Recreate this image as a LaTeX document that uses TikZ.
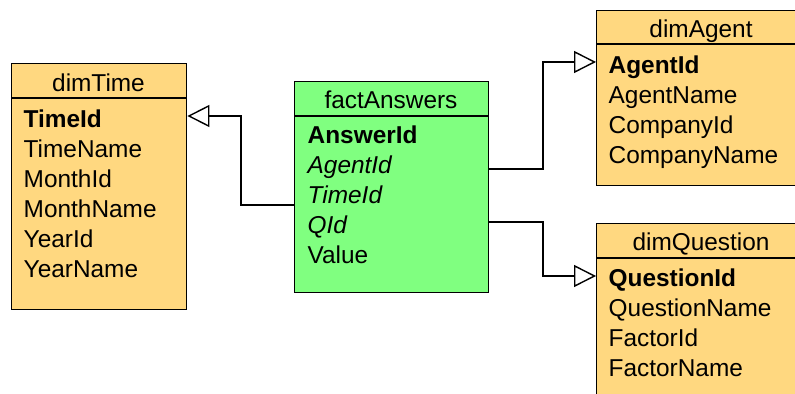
\documentclass[tikz,border=0pt]{standalone}
\usepackage{fontspec}
\setmainfont{Liberation Sans}
\usetikzlibrary{arrows.meta}
\definecolor{dimfill}{RGB}{255,216,128}
\definecolor{factfill}{RGB}{128,255,128}

\begin{document}
\begin{tikzpicture}[x=0.5pt, y=-0.5pt, line width=0.7pt,
  every node/.style={inner sep=0, font=\fontsize{12.2}{15}\selectfont},
  dim/.style={draw, fill=dimfill, anchor=north west},
  fact/.style={draw, fill=factfill, anchor=north west},
  row/.style={anchor=base west},
  title/.style={anchor=base},
  link/.style={-{Triangle[open, length=11pt, width=11pt, fill=white]}}]
  \useasboundingbox (0,0) rectangle (795,394);
  \clip (0,0) rectangle (795,394);
  % tables
  \node[dim, minimum width=87.5pt, minimum height=123pt] (dimTime) at (11,63) {};
  \node[fact, minimum width=97pt, minimum height=105.5pt] (factAnswers) at (294,81) {};
  \node[dim, minimum width=105pt, minimum height=87.5pt] (dimAgent) at (596,10) {};
  \node[dim, minimum width=105pt, minimum height=90pt] (dimQuestion) at (596,223) {};
  \draw (dimTime.west |- 0,98) -- (dimTime.east |- 0,98);
  \draw (factAnswers.west |- 0,116) -- (factAnswers.east |- 0,116);
  \draw (dimAgent.west |- 0,44) -- (dimAgent.east |- 0,44);
  \draw (dimQuestion.west |- 0,258) -- (dimQuestion.east |- 0,258);
  % dimTime
  \node[title] (tTitle) at (98.5,92) {dimTime};
  \node[row] (tTimeId) at (23,128) {\textbf{TimeId}};
  \node[row] (tTimeName) at (23,158) {TimeName};
  \node[row] (tMonthId) at (23,188) {MonthId};
  \node[row] (tMonthName) at (23,218) {MonthName};
  \node[row] (tYearId) at (23,248) {YearId};
  \node[row] (tYearName) at (23,278) {YearName};
  % factAnswers
  \node[title] (fTitle) at (391,109) {factAnswers};
  \node[row] (fAnswerId) at (307,144) {\textbf{AnswerId}};
  \node[row] (fAgentId) at (307,174) {\textit{AgentId}};
  \node[row] (fTimeId) at (307,204) {\textit{TimeId}};
  \node[row] (fQId) at (307,234) {\textit{QId}};
  \node[row] (fValue) at (307,264) {Value};
  % dimAgent
  \node[title] (aTitle) at (701,38) {dimAgent};
  \node[row] (aAgentId) at (608,74) {\textbf{AgentId}};
  \node[row] (aAgentName) at (608,104) {AgentName};
  \node[row] (aCompanyId) at (608,134) {CompanyId};
  \node[row] (aCompanyName) at (608,164) {CompanyName};
  % dimQuestion
  \node[title] (qTitle) at (701,251) {dimQuestion};
  \node[row] (qQuestionId) at (608,286) {\textbf{QuestionId}};
  \node[row] (qQuestionName) at (608,316) {QuestionName};
  \node[row] (qFactorId) at (608,346) {FactorId};
  \node[row] (qFactorName) at (608,376) {FactorName};
  % links
  \draw[link] (factAnswers.west |- 0,205) -- (241,205) |- (dimTime.east |- 0,116);
  \draw[link] (factAnswers.east |- 0,169) -- (543,169) |- (dimAgent.west |- 0,62);
  \draw[link] (factAnswers.east |- 0,222) -- (543,222) |- (dimQuestion.west |- 0,276);
\end{tikzpicture}
\end{document}
